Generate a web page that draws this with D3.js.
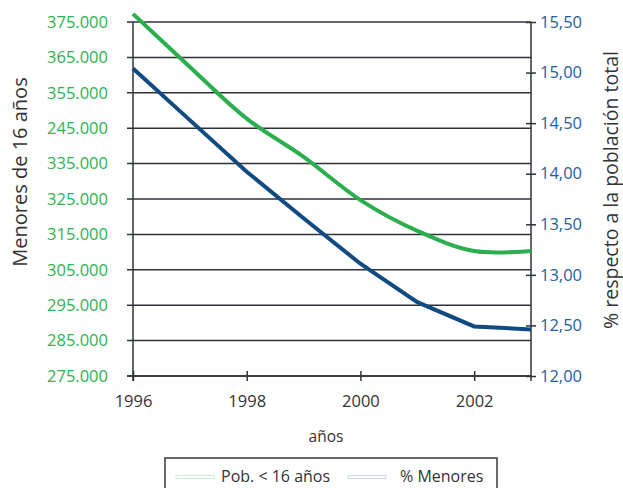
<!DOCTYPE html>
<html>
<head>
<meta charset="utf-8">
<script src="https://cdn.jsdelivr.net/npm/d3@7"></script>
<style>
  html, body { margin: 0; padding: 0; background: #fff; }
  svg { display: block; font-family: "Open Sans", "Noto Sans", sans-serif; }
</style>
</head>
<body>
<svg id="chart" width="623" height="488"></svg>
<script>
// ---- data ----
const years = [1996, 1997, 1998, 1999, 2000, 2001, 2002, 2003];
const poblacionMenores16 = [377300, 362300, 347700, 336900, 324700, 316000, 310300, 310300];
const porcentajeMenores = [15.04, 14.53, 14.02, 13.56, 13.11, 12.73, 12.49, 12.46];
const leftTickValues = [275000, 285000, 295000, 305000, 315000, 325000, 335000, 345000, 355000, 365000, 375000];
const leftTickLabels = ["275.000", "285.000", "295.000", "305.000", "315.000", "325.000", "335.000", "245.000", "355.000", "365.000", "375.000"];
const rightTickValues = [12.0, 12.5, 13.0, 13.5, 14.0, 14.5, 15.0, 15.5];
const xTickValues = [1996, 1998, 2000, 2002];
const seriesNames = ["Pob. < 16 años", "% Menores"];

(function () {
// ---- styles ----
const green = "#2aae4e";
const blue = "#0f4a80";
const greenText = "#2db351";
const blueText = "#245f9c";
const axisColor = "#2e323b";
const textColor = "#333333";
const tickFont = "16.5px";

const svg = d3.select("#chart");
const pL = 133, pR = 531, pT = 22, pB = 376;

const x = d3.scaleLinear().domain([1996, 2003]).range([pL, pR]);
const yL = d3.scaleLinear().domain([275000, 375000]).range([pB, pT]);
const yR = d3.scaleLinear().domain([12, 15.5]).range([pB, pT]);

const es = d3.formatLocale({decimal: ",", thousands: ".", grouping: [3], currency: ["", " €"]});
const fmtR = es.format(".2f");

// gridlines (at left ticks)
svg.append("g").selectAll("line").data(leftTickValues).join("line")
  .attr("x1", pL - 6).attr("x2", pR)
  .attr("y1", d => yL(d)).attr("y2", d => yL(d))
  .attr("stroke", axisColor).attr("stroke-width", 1.5);

// left axis
const gL = svg.append("g").attr("transform", `translate(${pL},0)`)
  .call(d3.axisLeft(yL).tickValues(leftTickValues)
    .tickFormat((d, i) => leftTickLabels[i]).tickSize(6).tickPadding(19));
gL.select(".domain").remove();
gL.selectAll(".tick line").remove();
gL.selectAll("text").attr("fill", greenText).style("font-size", tickFont)
  .style("font-family", "'Open Sans', sans-serif");
svg.append("line").attr("x1", pL).attr("x2", pL).attr("y1", pT).attr("y2", pB + 5)
  .attr("stroke", axisColor).attr("stroke-width", 1.5);

// right axis
const gR = svg.append("g").attr("transform", `translate(${pR},0)`)
  .call(d3.axisRight(yR).tickValues(rightTickValues).tickFormat(fmtR).tickSize(5).tickPadding(4));
gR.select(".domain").remove();
gR.selectAll(".tick line").attr("x1", -5).attr("x2", 5).attr("stroke", axisColor).attr("stroke-width", 1.5);
gR.selectAll("text").attr("fill", blueText).style("font-size", tickFont)
  .style("font-family", "'Open Sans', sans-serif");
svg.append("line").attr("x1", pR).attr("x2", pR).attr("y1", pT).attr("y2", pB + 5)
  .attr("stroke", axisColor).attr("stroke-width", 1.5);

// bottom axis
const gX = svg.append("g").attr("transform", `translate(0,${pB})`)
  .call(d3.axisBottom(x).tickValues(xTickValues).tickFormat(d3.format("d")).tickSize(5).tickPadding(14));
gX.select(".domain").attr("d", `M${pL - 6},0H${pR}`).attr("stroke", axisColor).attr("stroke-width", 1.5);
gX.selectAll(".tick line").attr("y1", -5).attr("y2", 5).attr("stroke", axisColor).attr("stroke-width", 1.5);
gX.selectAll("text").attr("fill", textColor).style("font-size", tickFont)
  .style("font-family", "'Open Sans', sans-serif");

// lines
const lineGreen = d3.line().x((d, i) => x(years[i])).y(d => yL(d)).curve(d3.curveCatmullRom.alpha(0.5));
const lineBlue = d3.line().x((d, i) => x(years[i])).y(d => yR(d));

svg.append("path").datum(poblacionMenores16).attr("d", lineGreen)
  .attr("fill", "none").attr("stroke", green).attr("stroke-width", 4);
svg.append("path").datum(porcentajeMenores).attr("d", lineBlue)
  .attr("fill", "none").attr("stroke", blue).attr("stroke-width", 4);

// axis titles
svg.append("text").attr("transform", `translate(27,172) rotate(-90)`)
  .attr("text-anchor", "middle").attr("fill", textColor).style("font-size", "20px")
  .text("Menores de 16 años");
svg.append("text").attr("transform", `translate(618,190) rotate(-90)`)
  .attr("text-anchor", "middle").attr("fill", textColor).style("font-size", "19.5px")
  .text("% respecto a la población total");
svg.append("text").attr("x", 326).attr("y", 442).attr("text-anchor", "middle")
  .attr("fill", textColor).style("font-size", "15.5px").text("años");

// legend
const lg = svg.append("g");
lg.append("rect").attr("x", 165).attr("y", 458).attr("width", 332).attr("height", 40)
  .attr("fill", "#fff").attr("stroke", "#3a3a3a").attr("stroke-width", 1.5);
const legendItems = [
  {name: seriesNames[0], stroke: "#cdebd6", sx: 176, tx: 221},
  {name: seriesNames[1], stroke: "#cbd8e6", sx: 348, tx: 400}
];
legendItems.forEach(it => {
  lg.append("rect").attr("x", it.sx).attr("y", 475.5).attr("width", 38).attr("height", 3)
    .attr("fill", "#fff").attr("stroke", it.stroke).attr("stroke-width", 1);
  lg.append("text").attr("x", it.tx).attr("y", 482).attr("fill", textColor)
    .style("font-size", "16px").text(it.name);
});
})();
</script>
</body>
</html>
